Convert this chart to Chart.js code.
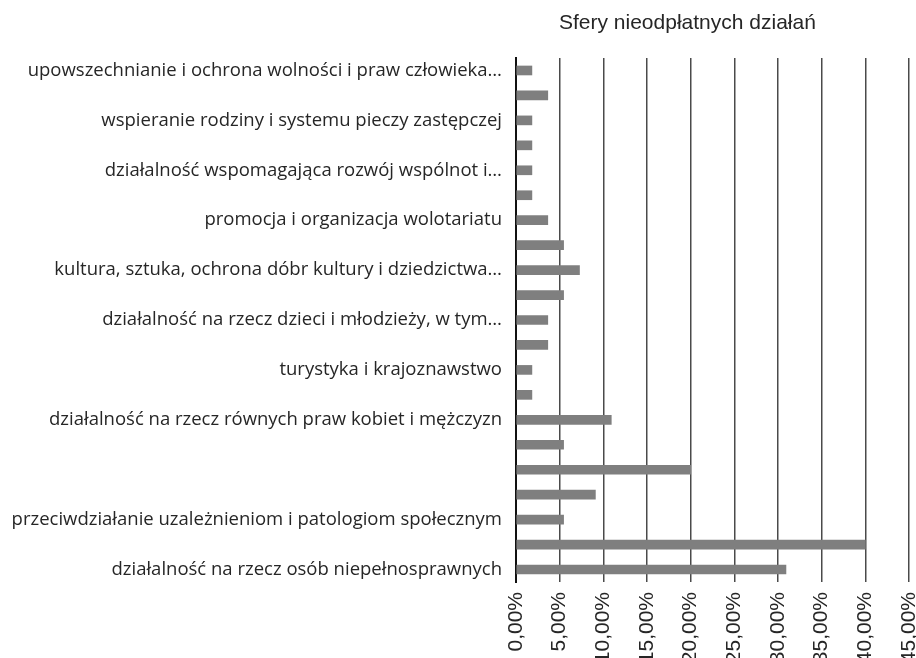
<!DOCTYPE html>
<html>
<head>
<meta charset="utf-8">
<script src="https://cdn.jsdelivr.net/npm/chart.js@4/dist/chart.umd.min.js"></script>
<style>
  html, body { margin: 0; padding: 0; background: #fff; }
  #wrap { position: relative; width: 916px; height: 658px; overflow: hidden; }
  #title {
    position: absolute; left: 559px; top: 10px;
    font: 21px "Liberation Sans", Arial, sans-serif; color: #262626;
  }
</style>
</head>
<body>
<div id="wrap">
  <div id="title">Sfery nieodpłatnych działań</div>
  <canvas id="chart" width="916" height="658"></canvas>
</div>
<script>
// kategorie od góry do dołu (puste = etykieta niewidoczna na wykresie)
const categories = [
  "upowszechnianie i ochrona wolności i praw człowieka…",
  "",
  "wspieranie rodziny i systemu pieczy zastępczej",
  "",
  "działalność wspomagająca rozwój wspólnot i…",
  "",
  "promocja i organizacja wolotariatu",
  "",
  "kultura, sztuka, ochrona dóbr kultury i dziedzictwa…",
  "",
  "działalność na rzecz dzieci i młodzieży, w tym…",
  "",
  "turystyka i krajoznawstwo",
  "",
  "działalność na rzecz równych praw kobiet i mężczyzn",
  "",
  "",
  "",
  "przeciwdziałanie uzależnieniom i patologiom społecznym",
  "",
  "działalność na rzecz osób niepełnosprawnych",
];

// udział w %
const shares = [
  1.82, 3.64, 1.82, 1.82, 1.82, 1.82, 3.64, 5.45, 7.27, 5.45, 3.64,
  3.64, 1.82, 1.82, 10.91, 5.45, 20.0, 9.09, 5.45, 40.0, 30.91,
];

const xMin = 0;
const xMax = 45;
const xStep = 5;

const ctx = document.getElementById("chart").getContext("2d");
new Chart(ctx, {
  type: "bar",
  data: {
    labels: categories,
    datasets: [
      {
        data: shares,
        backgroundColor: "#7f7f7f",
        borderWidth: 0,
        barThickness: 9,
      },
    ],
  },
  options: {
    indexAxis: "y",
    responsive: false,
    animation: false,
    layout: { padding: { top: 58, right: 7, left: 0, bottom: 0 } },
    plugins: { legend: { display: false }, tooltip: { enabled: false } },
    scales: {
      x: {
        min: xMin,
        max: xMax,
        ticks: {
          stepSize: xStep,
          maxRotation: 90,
          minRotation: 90,
          padding: 10,
          color: "#262626",
          font: { family: "Liberation Sans", size: 21 },
          callback: (v) => v.toFixed(2).replace(".", ",") + "%",
        },
        grid: { color: "#4a4a4a", lineWidth: 1.5, drawTicks: false },
        border: { display: false },
        afterFit: (s) => {
          s.height = 76;
          s.paddingLeft = 0;
          s.paddingRight = 0;
        },
      },
      y: {
        ticks: {
          autoSkip: false,
          padding: 14,
          color: "#262626",
          font: { family: "Open Sans", size: 18.5 },
        },
        grid: { display: false, drawTicks: false },
        border: { display: true, color: "#111", width: 2 },
        afterFit: (s) => { s.width = 516; },
      },
    },
  },
});
</script>
</body>
</html>
